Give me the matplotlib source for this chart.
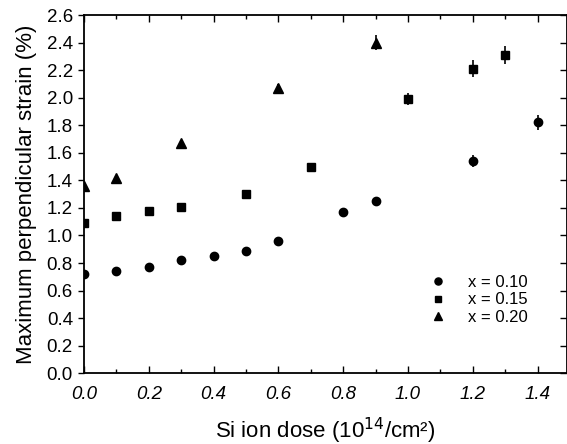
import matplotlib
matplotlib.use("Agg")
import matplotlib.pyplot as plt
from matplotlib.ticker import MultipleLocator
from matplotlib.lines import Line2D

plt.rcParams['font.family'] = ['Liberation Sans', 'DejaVu Sans']

dose_10 = [0.0, 0.1, 0.2, 0.3, 0.4, 0.5, 0.6, 0.8, 0.9, 1.2, 1.4]
strain_10 = [0.72, 0.74, 0.77, 0.82, 0.85, 0.89, 0.96, 1.17, 1.25, 1.54, 1.82]
err_10 = [0.01, 0.01, 0.01, 0.01, 0.01, 0.01, 0.01, 0.01, 0.01, 0.045, 0.055]

dose_15 = [0.0, 0.1, 0.2, 0.3, 0.5, 0.7, 1.0, 1.2, 1.3]
strain_15 = [1.09, 1.14, 1.18, 1.21, 1.30, 1.50, 1.99, 2.21, 2.31]
err_15 = [0.01, 0.01, 0.01, 0.01, 0.01, 0.01, 0.045, 0.06, 0.065]

dose_20 = [0.0, 0.1, 0.3, 0.6, 0.9]
strain_20 = [1.36, 1.42, 1.67, 2.07, 2.40]
err_20 = [0.02, 0.01, 0.02, 0.03, 0.055]

labels = ['x = 0.10', 'x = 0.15', 'x = 0.20']
markers = ['o', 's', '^']
msizes = [6, 5.5, 6.5]
xticks = [0.0, 0.2, 0.4, 0.6, 0.8, 1.0, 1.2, 1.4]
yticks = [0.0, 0.2, 0.4, 0.6, 0.8, 1.0, 1.2, 1.4, 1.6, 1.8, 2.0, 2.2, 2.4, 2.6]

fig = plt.figure(figsize=(5.67, 4.44), dpi=100)
ax = fig.add_axes([84/567, 1-373.3/444, (566.7-84)/567, (373.3-15)/444])

kw = dict(ls='none', color='black', ecolor='black', elinewidth=1.2, capsize=0)
for d, s, e, m, ms in zip([dose_10, dose_15, dose_20], [strain_10, strain_15, strain_20],
                          [err_10, err_15, err_20], markers, msizes):
    ax.errorbar(d, s, yerr=e, marker=m, ms=ms, **kw)

ax.set_xlim(0, 1.49)
ax.set_ylim(0, 2.6)
ax.set_xticks(xticks)
ax.set_xticklabels([f"{v:.1f}" for v in xticks], fontstyle='italic', fontsize=13.5)
ax.set_yticks(yticks)
ax.set_yticklabels([f"{v:.1f}" for v in yticks], fontsize=13.5)
ax.xaxis.set_minor_locator(MultipleLocator(0.1))

ax.tick_params(axis='x', which='both', direction='in', top=True, bottom=True, width=1)
ax.tick_params(axis='x', which='major', length=5, pad=9)
ax.tick_params(axis='x', which='minor', length=3)
ax.tick_params(axis='y', which='major', direction='out', left=True, right=True, length=4, width=1, pad=4)
for t in ax.yaxis.get_major_ticks():
    t.tick2line.set_marker(0)
    t.tick2line.set_markersize(5)

for s in ax.spines.values():
    s.set_linewidth(1.3)

ax.set_xlabel('Si ion dose (10$^{14}$/cm²)', fontsize=16, labelpad=9)
ax.set_ylabel('Maximum perpendicular strain (%)', fontsize=16, labelpad=7)

handles = [Line2D([], [], ls='none', marker=m, ms=ms * 0.85, color='black') for m, ms in zip(markers, msizes)]
ax.legend(handles, labels, loc='center', bbox_to_anchor=(0.818, 0.205), frameon=False,
          fontsize=12, handletextpad=1.3, labelspacing=0.15, handlelength=1.0)

fig.savefig('out.png', dpi=100)
